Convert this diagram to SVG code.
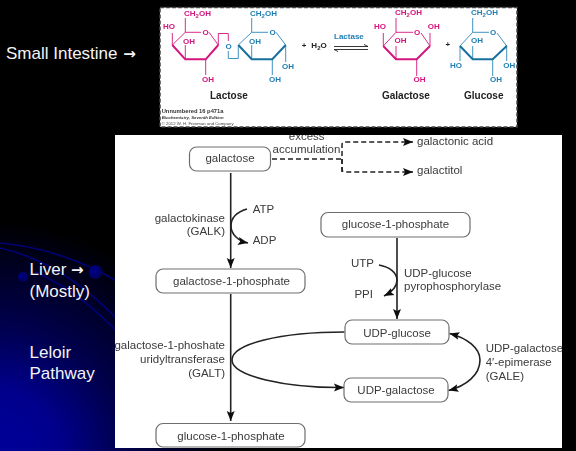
<svg xmlns="http://www.w3.org/2000/svg" width="576" height="451" viewBox="0 0 576 451">
<style>
text{font-family:"Liberation Sans",Arial,sans-serif}
.side{font-size:17px;fill:#f4f4f4}
.arw{font-family:"DejaVu Sans",sans-serif;font-weight:bold;font-size:15px}
.t{font-size:11.5px;fill:#3a3a3a}
.e{text-anchor:end}
.m{text-anchor:middle}
.box{fill:#fff;stroke:#6e6e6e;stroke-width:1.2}
.line{fill:none;stroke:#222;stroke-width:1.6}
.dash{fill:none;stroke:#222;stroke-width:1.5;stroke-dasharray:5 3}
.arc{fill:none;stroke:#000078;stroke-width:1.6}
.mol{font-size:8px;font-weight:bold}
.pk{fill:#d4147f}
.bl{fill:#1f7fb4}
.pl{fill:none;stroke:#d4147f;stroke-width:.9}
.pth{fill:none;stroke:#d4147f;stroke-width:2}
.bu{fill:none;stroke:#2c86b8;stroke-width:.9}
.bth{fill:none;stroke:#17709f;stroke-width:2}
.nm{font-size:10px;font-weight:bold;fill:#222}
.cap{fill:#333;font-weight:bold}
.soft{filter:url(#soft)}
</style>
<defs>
<radialGradient id="bg" gradientUnits="userSpaceOnUse" cx="-10" cy="460" r="240">
<stop offset="0" stop-color="#00009c"/>
<stop offset=".3" stop-color="#00008c"/>
<stop offset=".55" stop-color="#000050"/>
<stop offset="1" stop-color="#000"/>
</radialGradient>
<radialGradient id="ball" cx=".4" cy=".4" r=".7">
<stop offset="0" stop-color="#000090"/>
<stop offset="1" stop-color="#000050"/>
</radialGradient>
<filter id="soft" x="-2%" y="-2%" width="104%" height="104%"><feGaussianBlur stdDeviation=".4"/></filter>
<marker id="a" markerUnits="userSpaceOnUse" markerWidth="11" markerHeight="9" refX="10" refY="4.500" orient="auto"><path d="M0 0.500L10 4.500L0 8.500L2 4.500Z" fill="#111"/></marker>
<clipPath id="panel"><rect x="115" y="135" width="447" height="313"/></clipPath>
</defs>

<rect id="background" width="576" height="451" fill="#000"/>
<rect width="576" height="451" fill="url(#bg)"/>
<g id="decor">
<path class="arc" d="M0 243C45 247 85 262 120 283"/>
<path class="arc" d="M0 248C45 258 85 285 120 322"/>
<path class="arc" d="M35 272C65 285 95 308 120 335"/>
<circle cx="95.500" cy="272" r="7" fill="url(#ball)"/>
<circle cx="23" cy="277" r="5" fill="url(#ball)"/>
</g>

<g id="side-labels">
<text class="side" x="6" y="59">Small Intestine <tspan class="arw" dx="1">→</tspan></text>
<text class="side" x="29.500" y="275">Liver <tspan class="arw">→</tspan></text>
<text class="side" x="29.500" y="297">(Mostly)</text>
<text class="side" x="29.500" y="358">Leloir</text>
<text class="side" x="29.500" y="379">Pathway</text>
</g>

<g id="lactose-reaction" class="soft">
<rect x="160" y="7.500" width="357" height="119.500" fill="#fff" stroke="#444" stroke-width="1.5" stroke-dasharray="4 2"/>
<g id="lactose">
<path class="pl" d="M172.300 45L185.300 32.300H201M209 32.300L218.300 45M185.300 32.300V18M172.300 45V33M185.300 45V59M218.300 45V33.500H228.300V41M205.700 59.300V75"/>
<path class="pth" d="M172.300 45L185.300 59.300H205.700L218.300 45"/>
<path class="bu" d="M228.300 51V58.500H238.300V45L251.700 32.300H268M276 32.300L285.700 45M251.700 32.300V18M251.700 45V59M285.700 45V62M272.300 59.300V75"/>
<path class="bth" d="M238.300 45L251.700 59.300H272.300L285.700 45"/>
<text class="mol pk" x="184" y="16">CH<tspan font-size="6" dy="1.500">2</tspan><tspan dy="-1.500">OH</tspan></text>
<text class="mol pk" x="163" y="29">HO</text>
<text class="mol pk" x="183" y="43.500">OH</text>
<text class="mol pk" x="202.500" y="35">O</text>
<text class="mol pk" x="202" y="82">OH</text>
<text class="mol bl" x="225.500" y="49">O</text>
<text class="mol bl" x="250" y="16">CH<tspan font-size="6" dy="1.500">2</tspan><tspan dy="-1.500">OH</tspan></text>
<text class="mol bl" x="249" y="43.500">OH</text>
<text class="mol bl" x="269.500" y="35">O</text>
<text class="mol bl" x="282" y="69">OH</text>
<text class="mol bl" x="269" y="82">OH</text>
<text class="nm" x="210" y="99">Lactose</text>
</g>
<g id="lactase">
<text class="mol" x="301.700" y="48" fill="#222">+<tspan dx="5">H</tspan><tspan font-size="6" dy="1.500">2</tspan><tspan dy="-1.500">O</tspan></text>
<text class="mol bl" x="334" y="38.700" font-size="8.300">Lactase</text>
<path d="M334 49.500H368M334 49.500L338 51.500M334 46.500H368M368 46.500L364 44.500" fill="none" stroke="#222" stroke-width=".9"/>
</g>
<g id="galactose-mol">
<path class="pl" d="M383.300 46L396 32.300H413M421 33L430 46M396 32.300V18M383.300 46V33M430 46V33M396 46V59M416.700 59.300V76"/>
<path class="pth" d="M383.300 46L396 59.300H416.700L430 46"/>
<text class="mol pk" x="395" y="15">CH<tspan font-size="6" dy="1.500">2</tspan><tspan dy="-1.500">OH</tspan></text>
<text class="mol pk" x="374" y="29">HO</text>
<text class="mol pk" x="427.700" y="29">OH</text>
<text class="mol pk" x="394.500" y="43">OH</text>
<text class="mol pk" x="414" y="35">O</text>
<text class="mol pk" x="413.500" y="82">OH</text>
<text class="nm" x="382" y="99">Galactose</text>
</g>
<text class="mol" x="445.500" y="47" fill="#222">+</text>
<g id="glucose-mol">
<path class="bu" d="M460 46L472.700 32.300H489M497 33L506.700 46M472.700 32.300V18M472.700 46V59M460 46V61M506.700 46V61M492.700 59.300V76"/>
<path class="bth" d="M460 46L472.700 59.300H492.700L506.700 46"/>
<text class="mol bl" x="471" y="15">CH<tspan font-size="6" dy="1.500">2</tspan><tspan dy="-1.500">OH</tspan></text>
<text class="mol bl" x="471" y="43">OH</text>
<text class="mol bl" x="490" y="35">O</text>
<text class="mol bl" x="450" y="68">HO</text>
<text class="mol bl" x="503.300" y="68">OH</text>
<text class="mol bl" x="490" y="82">OH</text>
<text class="nm" x="464" y="99">Glucose</text>
</g>
<g id="caption">
<text class="cap" x="161.700" y="112.700" font-size="5.800">Unnumbered 16 p471a</text>
<text class="cap" x="161.700" y="118.500" font-size="4.300" font-style="italic">Biochemistry, Seventh Edition</text>
<text x="161.700" y="124.700" font-size="4.300" fill="#444">© 2012 W. H. Freeman and Company</text>
</g>
</g>

<g id="pathway" class="soft">
<rect x="115" y="135" width="447" height="313" fill="#fff"/>
<g id="connectors">
<path class="line" marker-end="url(#a)" d="M230.700 173V268"/>
<path class="line" marker-end="url(#a)" d="M230.700 294V421"/>
<path class="line" marker-end="url(#a)" d="M397 238V319"/>
<path class="line" marker-end="url(#a)" d="M247 209C237 212 231 218 231 226C231 234 238 241 248 243"/>
<path class="line" marker-end="url(#a)" d="M379 265C390 267 397 273 397 280C397 287 392 292 384 296"/>
<path class="line" marker-end="url(#a)" d="M344.500 332C280 332 232 344 232 360C232 376 285 388 344 387.500"/>
<path class="line" marker-end="url(#a)" d="M480 360C480 348 467 338 449.500 333.500"/>
<path class="line" marker-end="url(#a)" d="M480 360C480 375 466 386 448.500 390.500"/>
<path class="dash" d="M272 159H342"/>
<path class="dash" marker-end="url(#a)" d="M342 172V145Q342 142 345 142H413"/>
<path class="dash" marker-end="url(#a)" d="M342 159V169Q342 172 345 172H413"/>
</g>
<g id="galactose"><rect class="box" x="189.500" y="147" width="81" height="24" rx="7"/><text class="t m" x="230" y="162">galactose</text></g>
<g id="galactose-1-phosphate"><rect class="box" x="156" y="269" width="149" height="24" rx="7"/><text class="t m" x="231.500" y="285">galactose-1-phosphate</text></g>
<g id="glucose-1-phosphate-top"><rect class="box" x="321" y="212.500" width="149" height="24.500" rx="7"/><text class="t m" x="395.500" y="228">glucose-1-phosphate</text></g>
<g id="udp-glucose"><rect class="box" x="345" y="320" width="104" height="24" rx="7"/><text class="t m" x="397" y="337">UDP-glucose</text></g>
<g id="udp-galactose"><rect class="box" x="344" y="378" width="104" height="24" rx="7"/><text class="t m" x="396" y="394">UDP-galactose</text></g>
<g id="glucose-1-phosphate-bottom"><rect class="box" x="156" y="423.500" width="149" height="23.500" rx="7"/><text class="t m" x="231" y="440">glucose-1-phosphate</text></g>
<g id="labels">
<g clip-path="url(#panel)"><text class="t m" x="306.700" y="140">excess</text></g>
<text class="t m" x="306.500" y="153">accumulation</text>
<text class="t" x="417" y="144.500">galactonic acid</text>
<text class="t" x="417" y="174">galactitol</text>
<text class="t e" x="225" y="222">galactokinase</text>
<text class="t e" x="225" y="235">(GALK)</text>
<text class="t" x="252.700" y="213">ATP</text>
<text class="t" x="252.700" y="244">ADP</text>
<text class="t e" x="374" y="267">UTP</text>
<text class="t e" x="373" y="298">PPI</text>
<text class="t" x="404" y="277">UDP-glucose</text>
<text class="t" x="404" y="290">pyrophosphorylase</text>
<g clip-path="url(#panel)"><text class="t e" x="225" y="349">galactose-1-phoshate</text></g>
<text class="t e" x="225" y="363">uridyltransferase</text>
<text class="t e" x="225" y="377">(GALT)</text>
<g clip-path="url(#panel)"><text class="t" x="485.700" y="352">UDP-galactose</text></g>
<text class="t" x="485.700" y="366">4′-epimerase</text>
<text class="t" x="485.700" y="380">(GALE)</text>
</g>
</g>
</svg>
